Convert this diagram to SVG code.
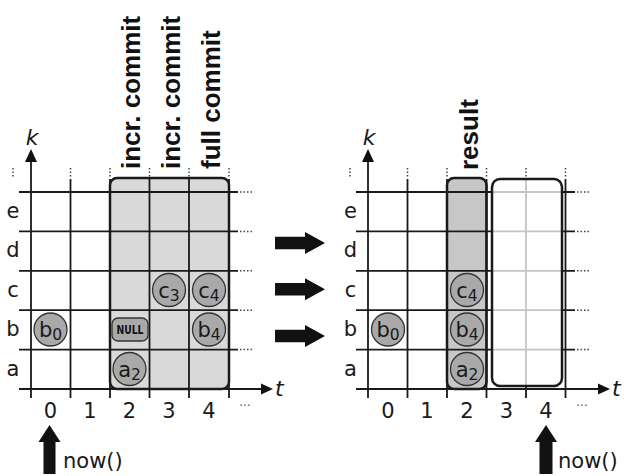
<svg xmlns="http://www.w3.org/2000/svg" width="624" height="476" viewBox="0 0 624 476">
<style>
.g{stroke:#1a1a1a;stroke-width:1.8;fill:none}
.lg{stroke:#c4c4c4;stroke-width:1.8;fill:none}
.dot{stroke:#444;stroke-width:1.5;stroke-dasharray:1.5 2;fill:none}
.box{stroke:#1a1a1a;stroke-width:2.5}
.lbl{font-family:"DejaVu Sans",Verdana,sans-serif;font-size:21px;fill:#1a1a1a}
.it{font-family:"DejaVu Sans",Verdana,sans-serif;font-style:italic;font-size:22px;fill:#1a1a1a}
.hdr{font-family:"Liberation Sans",Arial,sans-serif;font-weight:bold;font-size:26px;fill:#111}
.cl{font-family:"DejaVu Sans",Verdana,sans-serif;font-size:21px;fill:#1a1a1a;text-anchor:middle}
.sub{font-size:15.5px}
.cir{fill:#a9a9a9;stroke:#333;stroke-width:1.3}
.ell{font-family:"DejaVu Sans",sans-serif;font-size:12px;fill:#555}
.arr{fill:#111}
</style>

<!-- LEFT DIAGRAM -->
<g id="left-commit-box-fill">
<rect x="110" y="178" width="119" height="211" rx="7" fill="#d9d9d9"/>
</g>
<g id="left-grid">
<path class="g" d="M19 192H238M19 231.4H238M19 270.8H238M19 310.2H238M19 349.6H238M19 389H263"/>
<path class="g" d="M31 161V398M70.5 179V398M110 179V398M149.5 179V398M189 179V398M229 179V398"/>
<path class="dot" d="M13 168V178M70.5 168V178M110 168V178M149.5 168V178M189 168V178M229 168V178"/>
<path class="dot" d="M240 192H252M240 231.4H252M240 270.8H252M240 310.2H252M240 349.6H252"/>
<polygon class="arr" points="31,149 25,162 37,162"/>
<polygon class="arr" points="273,389 261,383.5 261,394.5"/>
<text class="it" x="32" y="145" text-anchor="middle">k</text>
<text class="it" x="275" y="396">t</text>
</g>
<g id="left-commit-box">
<rect class="box" x="110" y="178" width="119" height="211" rx="7" fill="none"/>
</g>
<g id="left-row-labels" class="lbl" text-anchor="middle" font-size="22">
<text x="13" y="218">e</text>
<text x="13" y="257">d</text>
<text x="13" y="297">c</text>
<text x="13" y="336">b</text>
<text x="13" y="376">a</text>
</g>
<g id="left-col-labels" class="lbl" text-anchor="middle">
<text x="50.5" y="418">0</text>
<text x="90" y="418">1</text>
<text x="129.5" y="418">2</text>
<text x="169" y="418">3</text>
<text x="209" y="418">4</text>
<text class="ell" x="245" y="410">···</text>
</g>
<g id="left-headers" class="hdr">
<text transform="translate(140,169) rotate(-90)">incr. commit</text>
<text transform="translate(180,169) rotate(-90)">incr. commit</text>
<text transform="translate(220,169) rotate(-90)">full commit</text>
</g>
<g id="left-b0"><circle class="cir" cx="50.5" cy="329.5" r="16.5"/><text class="cl" x="50.5" y="337">b<tspan class="sub" dy="3">0</tspan></text></g>
<g id="left-c3"><circle class="cir" cx="169" cy="290" r="16.5"/><text class="cl" x="169" y="297.5">c<tspan class="sub" dy="3">3</tspan></text></g>
<g id="left-c4"><circle class="cir" cx="209" cy="290" r="16.5"/><text class="cl" x="209" y="297.5">c<tspan class="sub" dy="3">4</tspan></text></g>
<g id="left-b4"><circle class="cir" cx="209" cy="329.5" r="16.5"/><text class="cl" x="209" y="337">b<tspan class="sub" dy="3">4</tspan></text></g>
<g id="left-a2"><circle class="cir" cx="129.5" cy="369" r="16.5"/><text class="cl" x="129.5" y="376.5">a<tspan class="sub" dy="3">2</tspan></text></g>
<g id="left-null">
<rect x="112" y="318" width="36" height="23" rx="6" fill="#a9a9a9" stroke="#333" stroke-width="1.3"/>
<text x="130" y="334" text-anchor="middle" font-family="'DejaVu Sans Condensed','DejaVu Sans',sans-serif" font-weight="bold" font-size="12" textLength="27" lengthAdjust="spacingAndGlyphs" fill="#111">NULL</text>
</g>
<g id="left-now">
<polygon class="arr" points="49.5,425 38.5,442 43.5,442 43.5,474 55.5,474 55.5,442 60.5,442"/>
<text class="lbl" x="63" y="468" font-size="23">now()</text>
</g>

<!-- MIDDLE ARROWS -->
<g id="connectors">
<polygon class="arr" points="275,236.7 305,236.7 305,232 325,243 305,254 305,249.3 275,249.3"/>
<polygon class="arr" points="275,283 305,283 305,278.3 325,289.3 305,300.3 305,295.6 275,295.6"/>
<polygon class="arr" points="275,329.7 305,329.7 305,325 325,336 305,347 305,342.3 275,342.3"/>
</g>

<!-- RIGHT DIAGRAM -->
<g id="right-result-box-fill">
<rect x="447" y="178" width="39.5" height="211" rx="7" fill="#c6c7c6"/>
</g>
<g id="right-grid">
<path class="g" d="M356 192H575M356 231.4H575M356 270.8H575M356 310.2H575M356 349.6H575M356 389H599"/>
<path class="g" d="M368 161V398M407.5 179V398M447 179V398M486.5 179V398M526 179V398M565.5 179V398"/>
<path class="dot" d="M350 168V178M407.5 168V178M447 168V178M486.5 168V178M526 168V178M565.5 168V178"/>
<path class="dot" d="M577 192H589M577 231.4H589M577 270.8H589M577 310.2H589M577 349.6H589"/>
<polygon class="arr" points="368,149 362,162 374,162"/>
<polygon class="arr" points="610,389 598,383.5 598,394.5"/>
<text class="it" x="369" y="145" text-anchor="middle">k</text>
<text class="it" x="612" y="396">t</text>
</g>
<g id="right-empty-box">
<rect x="492" y="179" width="70" height="207" rx="8" fill="#fff"/>
<path class="lg" d="M526 180V385M493 192H561M493 231.4H561M493 270.8H561M493 310.2H561M493 349.6H561"/>
<rect class="box" x="492" y="179" width="70" height="207" rx="8" fill="none"/>
</g>
<g id="right-result-box">
<rect class="box" x="447" y="178" width="39.5" height="211" rx="7" fill="none"/>
</g>
<g id="right-row-labels" class="lbl" text-anchor="middle" font-size="22">
<text x="350.5" y="218">e</text>
<text x="350.5" y="257">d</text>
<text x="350.5" y="297">c</text>
<text x="350.5" y="336">b</text>
<text x="350.5" y="376">a</text>
</g>
<g id="right-col-labels" class="lbl" text-anchor="middle">
<text x="388" y="418">0</text>
<text x="427" y="418">1</text>
<text x="467" y="418">2</text>
<text x="506.5" y="418">3</text>
<text x="546" y="418">4</text>
<text class="ell" x="582" y="410">···</text>
</g>
<g id="right-header" class="hdr">
<text transform="translate(477.5,170) rotate(-90)">result</text>
</g>
<g id="right-b0"><circle class="cir" cx="388" cy="329.5" r="16.5"/><text class="cl" x="388" y="337">b<tspan class="sub" dy="3">0</tspan></text></g>
<g id="right-c4"><circle class="cir" cx="467" cy="290" r="16.5"/><text class="cl" x="467" y="297.5">c<tspan class="sub" dy="3">4</tspan></text></g>
<g id="right-b4"><circle class="cir" cx="467" cy="329.5" r="16.5"/><text class="cl" x="467" y="337">b<tspan class="sub" dy="3">4</tspan></text></g>
<g id="right-a2"><circle class="cir" cx="467" cy="369" r="16.5"/><text class="cl" x="467" y="376.5">a<tspan class="sub" dy="3">2</tspan></text></g>
<g id="right-now">
<polygon class="arr" points="546,425 535,442 539.5,442 539.5,474 552.5,474 552.5,442 557,442"/>
<text class="lbl" x="558" y="468" font-size="23">now()</text>
</g>
</svg>
